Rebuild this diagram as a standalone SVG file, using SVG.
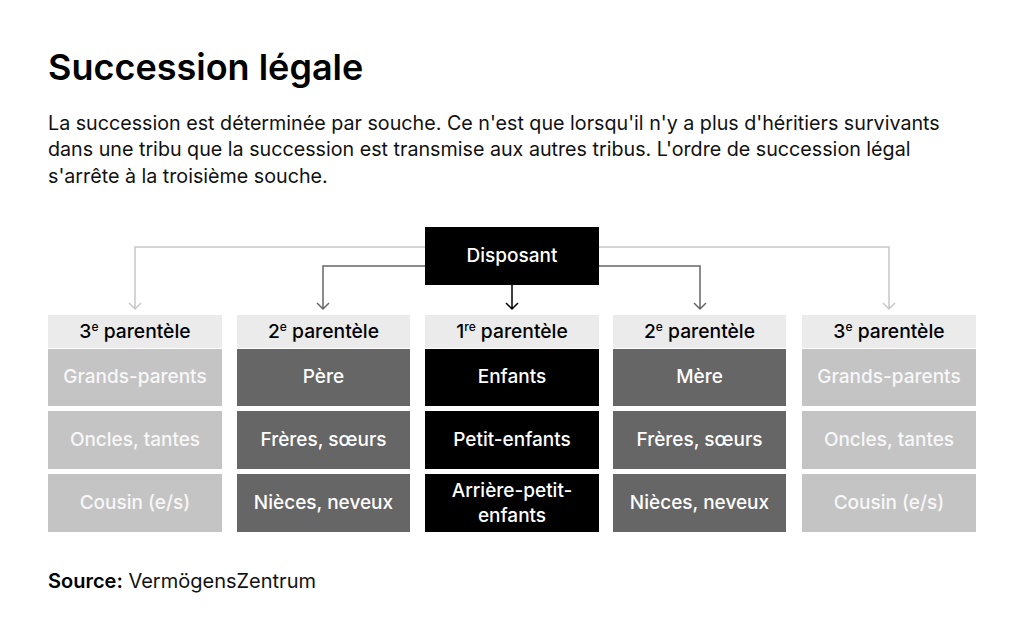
<svg xmlns="http://www.w3.org/2000/svg" width="1024" height="642" viewBox="0 0 1024 642">
<defs>
<style>
text{font-family:Inter,"Noto Sans","Liberation Sans",sans-serif;}
.title{font-size:36px;font-weight:600;fill:#000;}
.body{font-size:19.7px;font-weight:400;fill:#111;}
.src{font-size:20px;font-weight:400;fill:#111;}
.hdr{font-size:19.3px;font-weight:500;fill:#000;text-anchor:middle;}
.cell{font-size:19px;font-weight:500;text-anchor:middle;}
.hbg{fill:#ebebeb;}
.c3{fill:#c4c4c4;}
.c2{fill:#666666;}
.c1{fill:#000000;}
.t3{fill:#f7f7f7;}
.tw{fill:#ffffff;}
.l3{fill:none;stroke:#c8c8c8;stroke-width:1.5;}
.l2{fill:none;stroke:#666666;stroke-width:1.5;}
.l1{fill:none;stroke:#000000;stroke-width:1.5;}
</style>
</defs>
<rect width="1024" height="642" fill="#ffffff"/>
<text class="title" x="48" y="80">Succession légale</text>
<text class="body" x="48" y="130">La succession est déterminée par souche. Ce n'est que lorsqu'il n'y a plus d'héritiers survivants</text>
<text class="body" x="48" y="156">dans une tribu que la succession est transmise aux autres tribus. L'ordre de succession légal</text>
<text class="body" x="48" y="183">s'arrête à la troisième souche.</text>

<g id="connectors">
<path class="l3" d="M425 247 H135 V309 M129 303 L135 309 L141 303"/>
<path class="l3" d="M599 247 H889 V309 M883 303 L889 309 L895 303"/>
<path class="l2" d="M425 266 H323 V309 M317 303 L323 309 L329 303"/>
<path class="l2" d="M599 266 H700 V309 M694 303 L700 309 L706 303"/>
<path class="l1" d="M512 285 V309 M506 303 L512 309 L518 303"/>
</g>

<g id="disposant">
<rect x="425" y="227" width="174" height="58" fill="#000"/>
<text class="cell tw" x="512" y="262">Disposant</text>
</g>

<g id="col1">
<rect class="hbg" x="48" y="315" width="174" height="33"/>
<text class="hdr" x="135" y="338">3<tspan font-size="12" dy="-7">e</tspan><tspan dy="7"> parentèle</tspan></text>
<rect class="c3" x="48" y="349" width="174" height="57"/>
<text class="cell t3" x="135" y="383">Grands-parents</text>
<rect class="c3" x="48" y="411" width="174" height="58"/>
<text class="cell t3" x="135" y="446">Oncles, tantes</text>
<rect class="c3" x="48" y="474" width="174" height="58"/>
<text class="cell t3" x="135" y="509">Cousin (e/s)</text>
</g>

<g id="col2">
<rect class="hbg" x="237" y="315" width="173" height="33"/>
<text class="hdr" x="323.5" y="338">2<tspan font-size="12" dy="-7">e</tspan><tspan dy="7"> parentèle</tspan></text>
<rect class="c2" x="237" y="349" width="173" height="57"/>
<text class="cell tw" x="323.5" y="383">Père</text>
<rect class="c2" x="237" y="411" width="173" height="58"/>
<text class="cell tw" x="323.5" y="446">Frères, sœurs</text>
<rect class="c2" x="237" y="474" width="173" height="58"/>
<text class="cell tw" x="323.5" y="509">Nièces, neveux</text>
</g>

<g id="col3">
<rect class="hbg" x="425" y="315" width="174" height="33"/>
<text class="hdr" x="512" y="338">1<tspan font-size="12" dy="-7">re</tspan><tspan dy="7"> parentèle</tspan></text>
<rect class="c1" x="425" y="349" width="174" height="57"/>
<text class="cell tw" x="512" y="383">Enfants</text>
<rect class="c1" x="425" y="411" width="174" height="58"/>
<text class="cell tw" x="512" y="446">Petit-enfants</text>
<rect class="c1" x="425" y="474" width="174" height="58"/>
<text class="cell tw" x="512" y="497">Arrière-petit-</text>
<text class="cell tw" x="512" y="522">enfants</text>
</g>

<g id="col4">
<rect class="hbg" x="613" y="315" width="173" height="33"/>
<text class="hdr" x="699.5" y="338">2<tspan font-size="12" dy="-7">e</tspan><tspan dy="7"> parentèle</tspan></text>
<rect class="c2" x="613" y="349" width="173" height="57"/>
<text class="cell tw" x="699.5" y="383">Mère</text>
<rect class="c2" x="613" y="411" width="173" height="58"/>
<text class="cell tw" x="699.5" y="446">Frères, sœurs</text>
<rect class="c2" x="613" y="474" width="173" height="58"/>
<text class="cell tw" x="699.5" y="509">Nièces, neveux</text>
</g>

<g id="col5">
<rect class="hbg" x="802" y="315" width="174" height="33"/>
<text class="hdr" x="889" y="338">3<tspan font-size="12" dy="-7">e</tspan><tspan dy="7"> parentèle</tspan></text>
<rect class="c3" x="802" y="349" width="174" height="57"/>
<text class="cell t3" x="889" y="383">Grands-parents</text>
<rect class="c3" x="802" y="411" width="174" height="58"/>
<text class="cell t3" x="889" y="446">Oncles, tantes</text>
<rect class="c3" x="802" y="474" width="174" height="58"/>
<text class="cell t3" x="889" y="509">Cousin (e/s)</text>
</g>

<text class="src" x="48" y="588"><tspan font-weight="600" fill="#000">Source:</tspan> VermögensZentrum</text>
</svg>
